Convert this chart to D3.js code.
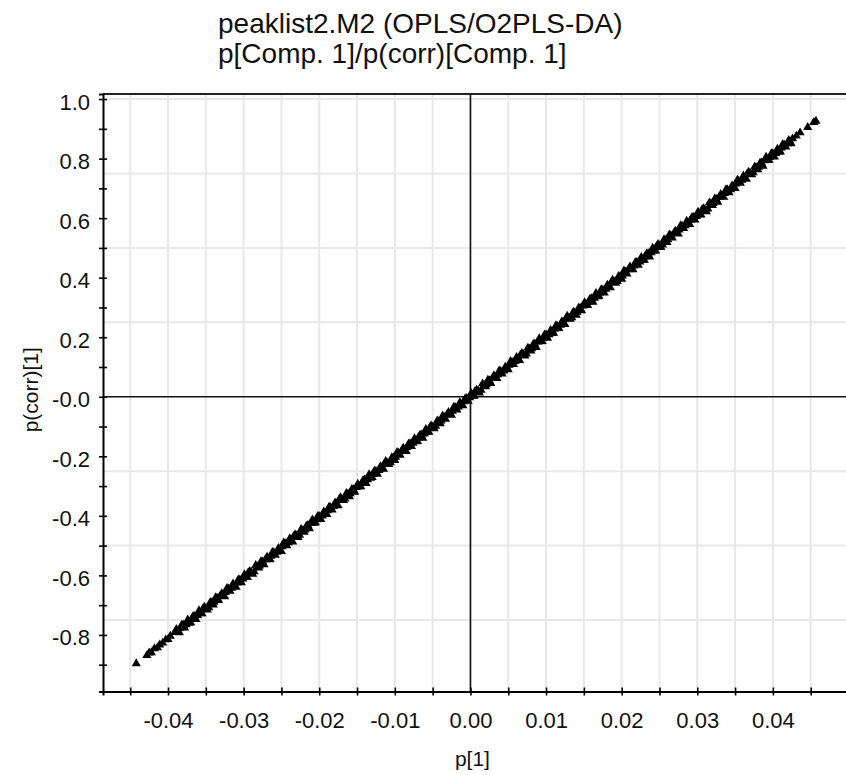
<!DOCTYPE html>
<html><head><meta charset="utf-8">
<script src="https://cdn.jsdelivr.net/npm/d3@7"></script>
<style>
body{margin:0;background:#fff}
svg{display:block}
text{font-family:"Liberation Sans",Arial,sans-serif;fill:#111}
</style>
</head><body>
<svg id="chart" width="846" height="775"></svg>
<script>
// ---- data ----
const titleLines = ["peaklist2.M2 (OPLS/O2PLS-DA)", "p[Comp. 1]/p(corr)[Comp. 1]"];
const xAxisTitle = "p[1]";
const yAxisTitle = "p(corr)[1]";

const xTickValues = [-0.045,-0.04,-0.035,-0.03,-0.025,-0.02,-0.015,-0.01,-0.005,0,0.005,0.01,0.015,0.02,0.025,0.03,0.035,0.04,0.045];
const xLabelValues = [-0.04,-0.03,-0.02,-0.01,0,0.01,0.02,0.03,0.04];
const xLabels = ["-0.04","-0.03","-0.02","-0.01","0.00","0.01","0.02","0.03","0.04"];

const yTickValues = [-0.9,-0.8,-0.7,-0.6,-0.5,-0.4,-0.3,-0.2,-0.1,0,0.1,0.2,0.3,0.4,0.5,0.6,0.7,0.8,0.9,1.0];
const yLabelValues = [-0.8,-0.6,-0.4,-0.2,0,0.2,0.4,0.6,0.8,1.0];
const yLabels = ["-0.8","-0.6","-0.4","-0.2","-0.0","0.2","0.4","0.6","0.8","1.0"];
const yGridValues = [-0.75,-0.5,-0.25,0.25,0.5,0.75,1.0];

// p[1] values (first group of variables)
const p1 = [
-0.0442,-0.0428,-0.0425,-0.0422,-0.0418,-0.0414,-0.0411,-0.0407,-0.0403,-0.0400,-0.0397,
-0.0391,-0.0387,-0.0384,-0.0380,-0.0376,-0.0372,-0.0369,-0.0365,-0.0361,-0.0357,-0.0354,-0.0350,-0.0346,-0.0342,-0.0339,
-0.0335,-0.0331,-0.0327,-0.0324,-0.0320,-0.0316,-0.0312,-0.0309,-0.0305,-0.0301,-0.0297,-0.0294,-0.0290,-0.0286,-0.0282,
-0.0279,-0.0275,-0.0271,-0.0267,-0.0264,-0.0260,-0.0256,-0.0252,-0.0249,-0.0245,-0.0241,-0.0237,-0.0234,-0.0230,-0.0226,
-0.0222,-0.0219,-0.0215,-0.0211,-0.0207,-0.0204,-0.0200,-0.0196,-0.0192,-0.0189,-0.0185,-0.0181,-0.0177,-0.0174,-0.0170,
-0.0166,-0.0162,-0.0159,-0.0155,-0.0151,-0.0147,-0.0144,-0.0140,-0.0136,-0.0132,-0.0129,-0.0125,-0.0121,-0.0117,-0.0114,
-0.0110,-0.0106,-0.0102,-0.0099,-0.0095,-0.0091,-0.0087,-0.0084,-0.0080,-0.0076,-0.0072,-0.0069,-0.0065,-0.0061,-0.0057,
-0.0054,-0.0050,-0.0046,-0.0042,-0.0039,-0.0035,-0.0031,-0.0027,-0.0024,-0.0020,-0.0016,-0.0012,-0.0009,-0.0005,-0.0001,
0.0003,0.0006,0.0010,0.0014,0.0018,0.0021,0.0025,0.0029,0.0033,0.0036,0.0040,0.0044,0.0048,0.0051,0.0055,0.0059,0.0063,
0.0066,0.0070,0.0074,0.0078,0.0081,0.0085,0.0089,0.0093,0.0096,0.0100,0.0104,0.0108,0.0111,0.0115,0.0119,0.0123,0.0126,
0.0130,0.0134,0.0138,0.0141,0.0145,0.0149,0.0153,0.0156,0.0160,0.0164,0.0168,0.0171,0.0175,0.0179,0.0183,0.0186,0.0190,
0.0194,0.0198,0.0201,0.0205,0.0209,0.0213,0.0216,0.0220,0.0224,0.0228,0.0231,0.0235,0.0239,0.0243,0.0246,0.0250,0.0254,
0.0258,0.0261,0.0265,0.0269,0.0273,0.0276,0.0280,0.0284,0.0288,0.0291,0.0295,0.0299,0.0303,0.0306,0.0310,0.0314,0.0318,
0.0321,0.0325,0.0329,0.0333,0.0336,0.0340,0.0344,0.0348,0.0351,0.0355,0.0359,0.0363,0.0366,0.0370,0.0374,0.0378,0.0381,
0.0385,0.0389,0.0393,0.0396,0.0400,0.0404,0.0408,0.0411,0.0415,0.0419,0.0423,0.0426,
0.0431,0.0436,0.0446,0.0454,0.0457
];
// p(corr)[1] values (first group)
const pcorr = [
-0.896,-0.869,-0.860,-0.859,-0.846,-0.843,-0.833,-0.827,-0.816,-0.815,-0.804,
-0.791,-0.790,-0.778,-0.766,-0.765,-0.760,-0.747,-0.737,-0.734,-0.728,-0.713,-0.711,-0.708,-0.692,-0.690,
-0.676,-0.669,-0.668,-0.657,-0.645,-0.643,-0.638,-0.625,-0.615,-0.612,-0.606,-0.591,-0.589,-0.587,-0.570,
-0.568,-0.554,-0.547,-0.546,-0.535,-0.523,-0.522,-0.517,-0.503,-0.493,-0.490,-0.484,-0.469,-0.467,-0.465,
-0.449,-0.447,-0.432,-0.425,-0.424,-0.413,-0.401,-0.400,-0.395,-0.382,-0.372,-0.368,-0.362,-0.347,-0.345,
-0.343,-0.327,-0.325,-0.311,-0.304,-0.302,-0.291,-0.279,-0.278,-0.273,-0.260,-0.250,-0.247,-0.241,-0.225,
-0.223,-0.221,-0.205,-0.203,-0.189,-0.182,-0.181,-0.170,-0.157,-0.156,-0.151,-0.138,-0.128,-0.125,-0.119,
-0.104,-0.102,-0.099,-0.083,-0.081,-0.067,-0.060,-0.059,-0.048,-0.036,-0.034,-0.029,-0.016,-0.006,-0.003,
0.003,0.018,0.020,0.022,0.039,0.041,0.055,0.062,0.063,0.074,0.086,0.087,0.092,0.106,0.116,0.119,0.125,
0.140,0.142,0.144,0.160,0.162,0.177,0.184,0.185,0.196,0.208,0.209,0.214,0.227,0.237,0.241,0.247,0.262,
0.264,0.266,0.282,0.284,0.298,0.305,0.307,0.318,0.330,0.331,0.336,0.349,0.359,0.362,0.368,0.384,0.386,
0.388,0.404,0.406,0.420,0.427,0.428,0.440,0.452,0.453,0.458,0.471,0.481,0.484,0.490,0.505,0.508,0.510,
0.526,0.528,0.542,0.549,0.550,0.561,0.573,0.575,0.580,0.593,0.603,0.606,0.612,0.627,0.629,0.631,0.648,
0.650,0.664,0.671,0.672,0.683,0.695,0.696,0.701,0.715,0.725,0.728,0.734,0.749,0.751,0.753,0.769,0.771,
0.786,0.793,0.794,0.805,0.817,0.818,0.823,0.836,0.846,0.850,0.856,0.867,
0.876,0.887,0.905,0.922,0.926
];
// p[1] values (second group of variables)
const p1b = [
-0.0389,-0.0385,-0.0382,-0.0378,-0.0374,-0.0370,-0.0367,-0.0363,-0.0359,-0.0355,-0.0352,-0.0348,-0.0344,-0.0340,-0.0337,
-0.0333,-0.0329,-0.0325,-0.0322,-0.0318,-0.0314,-0.0310,-0.0307,-0.0303,-0.0299,-0.0295,-0.0292,-0.0288,-0.0284,-0.0280,
-0.0277,-0.0273,-0.0269,-0.0265,-0.0262,-0.0258,-0.0254,-0.0250,-0.0247,-0.0243,-0.0239,-0.0235,-0.0232,-0.0228,-0.0224,
-0.0220,-0.0217,-0.0213,-0.0209,-0.0205,-0.0202,-0.0198,-0.0194,-0.0190,-0.0187,-0.0183,-0.0179,-0.0175,-0.0172,-0.0168,
-0.0164,-0.0160,-0.0157,-0.0153,-0.0149,-0.0145,-0.0142,-0.0138,-0.0134,-0.0130,-0.0127,-0.0123,-0.0119,-0.0115,-0.0112,
-0.0108,-0.0104,-0.0100,-0.0097,-0.0093,-0.0089,-0.0085,-0.0082,-0.0078,-0.0074,-0.0070,-0.0067,-0.0063,-0.0059,-0.0055,
-0.0052,-0.0048,-0.0044,-0.0040,-0.0037,-0.0033,-0.0029,-0.0025,-0.0022,-0.0018,-0.0014,-0.0010,-0.0007,-0.0003,
0.0001,0.0005,0.0008,0.0012,0.0016,0.0020,0.0023,0.0027,0.0031,0.0035,0.0038,0.0042,0.0046,0.0050,0.0053,0.0057,
0.0061,0.0065,0.0068,0.0072,0.0076,0.0080,0.0083,0.0087,0.0091,0.0095,0.0098,0.0102,0.0106,0.0110,0.0113,0.0117,
0.0121,0.0125,0.0128,0.0132,0.0136,0.0140,0.0143,0.0147,0.0151,0.0155,0.0158,0.0162,0.0166,0.0170,0.0173,0.0177,
0.0181,0.0185,0.0188,0.0192,0.0196,0.0200,0.0203,0.0207,0.0211,0.0215,0.0218,0.0222,0.0226,0.0230,0.0233,0.0237,
0.0241,0.0245,0.0248,0.0252,0.0256,0.0260,0.0263,0.0267,0.0271,0.0275,0.0278,0.0282,0.0286,0.0290,0.0293,0.0297,
0.0301,0.0305,0.0308,0.0312,0.0316,0.0320,0.0323,0.0327,0.0331,0.0335,0.0338,0.0342,0.0346,0.0350,0.0353,0.0357,
0.0361,0.0365,0.0368,0.0372,0.0376,0.0380,0.0383,0.0387,0.0391,0.0395,0.0398,0.0402,0.0406,0.0410,0.0413,0.0417,
0.0421,0.0424
];
// p(corr)[1] values (second group)
const pcorrb = [
-0.781,-0.792,-0.767,-0.776,-0.749,-0.759,-0.738,-0.748,-0.718,-0.728,-0.706,-0.716,-0.690,-0.699,-0.674,
-0.684,-0.661,-0.671,-0.643,-0.653,-0.628,-0.639,-0.615,-0.624,-0.597,-0.607,-0.586,-0.596,-0.566,-0.575,
-0.553,-0.564,-0.538,-0.547,-0.522,-0.532,-0.509,-0.519,-0.490,-0.500,-0.476,-0.487,-0.463,-0.472,-0.445,
-0.455,-0.434,-0.443,-0.413,-0.423,-0.401,-0.412,-0.386,-0.395,-0.370,-0.380,-0.356,-0.366,-0.338,-0.348,
-0.324,-0.335,-0.311,-0.320,-0.293,-0.302,-0.281,-0.291,-0.261,-0.271,-0.249,-0.260,-0.234,-0.243,-0.217,
-0.227,-0.204,-0.214,-0.186,-0.196,-0.172,-0.183,-0.159,-0.167,-0.140,-0.150,-0.129,-0.139,-0.109,-0.119,
-0.097,-0.107,-0.081,-0.090,-0.065,-0.075,-0.052,-0.062,-0.034,-0.044,-0.019,-0.030,-0.006,-0.015,
0.012,0.002,0.023,0.013,0.044,0.034,0.056,0.045,0.071,0.062,0.087,0.077,0.100,0.091,0.119,0.109,
0.133,0.122,0.146,0.137,0.164,0.154,0.176,0.166,0.196,0.186,0.208,0.197,0.223,0.214,0.239,0.230,
0.253,0.243,0.271,0.261,0.285,0.274,0.298,0.289,0.317,0.307,0.328,0.318,0.348,0.338,0.360,0.349,
0.375,0.367,0.392,0.382,0.405,0.395,0.423,0.413,0.437,0.427,0.451,0.442,0.469,0.459,0.480,0.470,
0.500,0.490,0.512,0.502,0.528,0.519,0.544,0.534,0.557,0.547,0.575,0.566,0.590,0.579,0.603,0.594,
0.621,0.611,0.632,0.622,0.652,0.643,0.665,0.654,0.680,0.671,0.696,0.686,0.709,0.700,0.728,0.718,
0.742,0.731,0.755,0.746,0.773,0.763,0.785,0.775,0.805,0.795,0.817,0.806,0.832,0.823,0.848,0.839,
0.862,0.850
];
const points = p1.map((v, i) => ({x: v, y: pcorr[i]}))
  .concat(p1b.map((v, i) => ({x: v, y: pcorrb[i]})));

// ---- layout ----
const W = 846, H = 775;
const plot = {left: 103, top: 94, right: 850, bottom: 691.5};

const x = d3.scaleLinear().domain([-0.0486, 0.0502]).range([plot.left, plot.right]);
const y = d3.scaleLinear().domain([-0.99, 1.017]).range([plot.bottom, plot.top]);

const svg = d3.select("#chart");
svg.append("rect").attr("width", W).attr("height", H).attr("fill", "#fff");

svg.append("defs").append("clipPath").attr("id", "clip")
  .append("rect").attr("x", plot.left).attr("y", plot.top)
  .attr("width", plot.right - plot.left).attr("height", plot.bottom - plot.top);

const g = svg.append("g").attr("clip-path", "url(#clip)");

// grid
g.selectAll("line.vg").data(xTickValues).join("line").attr("class", "vg")
  .attr("x1", d => x(d)).attr("x2", d => x(d))
  .attr("y1", plot.top).attr("y2", plot.bottom)
  .attr("stroke", "#e8e8e8").attr("stroke-width", 2);
g.selectAll("line.hg").data(yGridValues).join("line").attr("class", "hg")
  .attr("x1", plot.left).attr("x2", plot.right)
  .attr("y1", d => y(d)).attr("y2", d => y(d))
  .attr("stroke", "#e8e8e8").attr("stroke-width", 2);

// zero lines
g.append("line").attr("x1", x(0)).attr("x2", x(0)).attr("y1", plot.top).attr("y2", plot.bottom)
  .attr("stroke", "#111").attr("stroke-width", 1.6);
g.append("line").attr("x1", plot.left).attr("x2", plot.right).attr("y1", y(0)).attr("y2", y(0))
  .attr("stroke", "#111").attr("stroke-width", 1.6);

// points
const tri = d3.symbol().type(d3.symbolTriangle).size(36);
g.selectAll("path.pt").data(points).join("path").attr("class", "pt")
  .attr("d", tri)
  .attr("transform", d => `translate(${x(d.x)},${y(d.y)})`)
  .attr("fill", "#000");

// top border
svg.append("line").attr("x1", plot.left).attr("x2", plot.right)
  .attr("y1", plot.top).attr("y2", plot.top).attr("stroke", "#222").attr("stroke-width", 2);

// axes
const fmtX = d => { const i = xLabelValues.findIndex(v => Math.abs(v - d) < 1e-9); return i >= 0 ? xLabels[i] : ""; };
const fmtY = d => { const i = yLabelValues.findIndex(v => Math.abs(v - d) < 1e-9); return i >= 0 ? yLabels[i] : ""; };

const xAxis = svg.append("g").attr("transform", `translate(0,${plot.bottom})`)
  .call(d3.axisBottom(x).tickValues(xTickValues).tickFormat(fmtX).tickSizeOuter(0).tickSize(4).tickPadding(20));
xAxis.select(".domain").attr("stroke", "#000").attr("stroke-width", 2);
xAxis.selectAll(".tick line").attr("y1", -4).attr("y2", 4).attr("stroke", "#000").attr("stroke-width", 1.6);
xAxis.selectAll(".tick text").attr("font-size", 22).attr("font-family", "Liberation Sans, Arial, sans-serif")
  .attr("fill", "#111").attr("y", null).attr("dy", null).attr("transform", "translate(0,36.5)");

const yAxis = svg.append("g").attr("transform", `translate(${plot.left},0)`)
  .call(d3.axisLeft(y).tickValues(yTickValues).tickFormat(fmtY).tickSizeOuter(0).tickSize(4).tickPadding(9));
yAxis.select(".domain").attr("stroke", "#000").attr("stroke-width", 2);
yAxis.selectAll(".tick line").attr("x1", -4).attr("x2", 4).attr("stroke", "#000").attr("stroke-width", 1.6);
yAxis.selectAll(".tick text").attr("font-size", 22).attr("font-family", "Liberation Sans, Arial, sans-serif")
  .attr("fill", "#111").attr("dy", null).attr("transform", "translate(0,10)");

// titles
svg.selectAll("text.title").data(titleLines).join("text").attr("class", "title")
  .attr("x", 218).attr("y", (d, i) => 33 + i * 30)
  .attr("font-size", 28).text(d => d);

svg.append("text").attr("x", x(0) + 2).attr("y", 766).attr("text-anchor", "middle")
  .attr("font-size", 21).text(xAxisTitle);

svg.append("text").attr("transform", `translate(38,${(plot.top + plot.bottom) / 2 - 3}) rotate(-90)`)
  .attr("text-anchor", "middle").attr("font-size", 21).text(yAxisTitle);
</script>
</body></html>
